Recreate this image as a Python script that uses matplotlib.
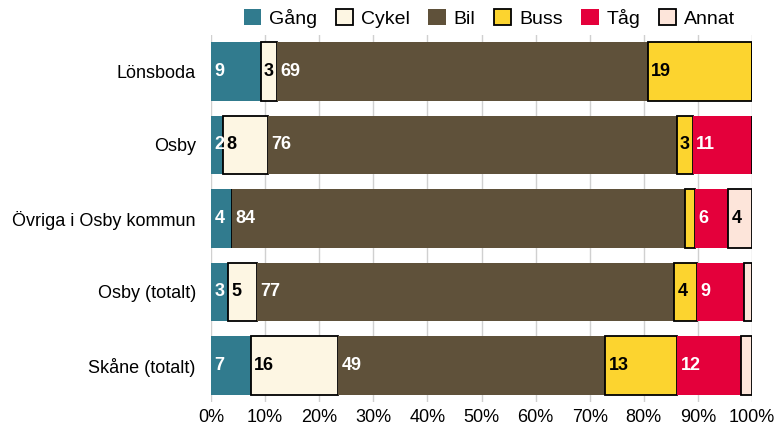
import numpy as np
import matplotlib.pyplot as plt

plt.rcParams['font.family'] = ['Liberation Sans', 'DejaVu Sans']

# kategorier (uppifrån och ner)
omraden = ["Lönsboda", "Osby", "Övriga i Osby kommun", "Osby (totalt)", "Skåne (totalt)"]
fardsatt = ["Gång", "Cykel", "Bil", "Buss", "Tåg", "Annat"]

# andelar i procent per färdsätt
gang  = [9.2, 2.2, 3.9, 3.1, 7.3]
cykel = [3.0, 8.3, 0.0, 5.4, 16.2]
bil   = [68.6, 75.6, 83.8, 77.1, 49.4]
buss  = [19.2, 3.0, 1.8, 4.2, 13.3]
tag   = [0.0, 10.9, 6.1, 8.7, 11.8]
annat = [0.0, 0.0, 4.4, 1.5, 2.0]

serier = [gang, cykel, bil, buss, tag, annat]
farger = ["#317b8e", "#fdf6e3", "#5f513a", "#fcd42f", "#e4003b", "#fde5da"]
kanter = [False, True, False, True, False, True]
textfarg = ["white", "black", "white", "black", "white", "black"]

fig = plt.figure(figsize=(7.77, 4.32), dpi=100)
ax = fig.add_axes([0.2716, 0.0689, 0.6962, 0.8507])

y = np.arange(len(omraden))
vanster = np.zeros(len(omraden))
for i, vals in enumerate(serier):
    vals = np.array(vals)
    ax.barh(y, vals, left=vanster, height=0.8, color=farger[i],
            edgecolor="black" if kanter[i] else "none",
            linewidth=1.3 if kanter[i] else 0, label=fardsatt[i], zorder=3)
    for j, v in enumerate(vals):
        if v >= 2.1:
            ax.text(vanster[j] + 0.6, y[j], f"{v:.0f}", color=textfarg[i],
                    fontsize=13, fontweight="bold", va="center", ha="left",
                    zorder=4)
    vanster += vals

ax.set_xlim(0, 100)
ax.set_ylim(len(omraden) - 0.5, -0.5)
ax.set_yticks(y)
ax.set_yticklabels(omraden, fontsize=13)
ax.set_xticks(np.arange(0, 101, 10))
ax.set_xticklabels([f"{t}%" for t in range(0, 101, 10)], fontsize=13)
ax.tick_params(axis="y", length=0, pad=11)
ax.tick_params(axis="x", length=0, pad=5)
ax.grid(axis="x", color="#d0d0d0", linewidth=1, zorder=0)
for s in ax.spines.values():
    s.set_visible(False)

fig.legend(loc="upper center", bbox_to_anchor=(0.63, 1.02), ncol=6,
           frameon=False, fontsize=14, handlelength=0.9, handleheight=0.9,
           handletextpad=0.4, columnspacing=0.95)

plt.savefig("out.png", dpi=100)
